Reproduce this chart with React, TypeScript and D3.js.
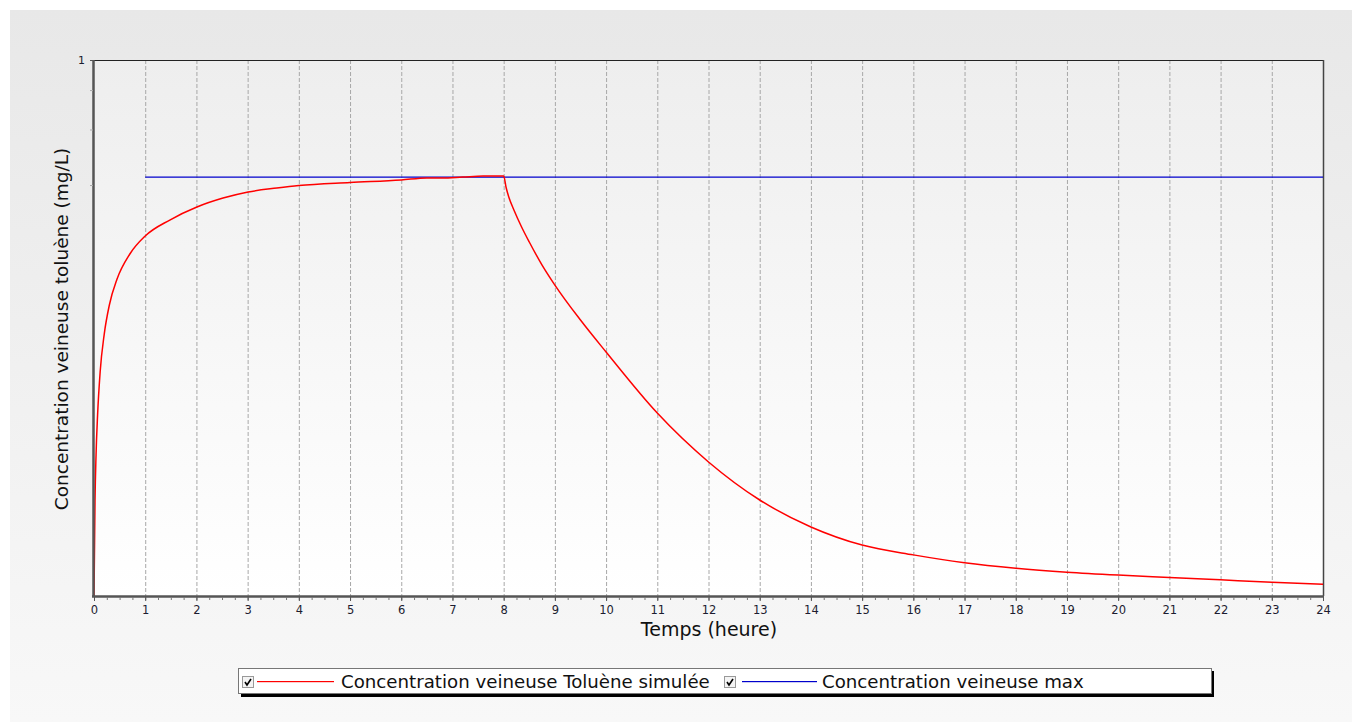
import React from "react";
import * as d3 from "d3";

const simTimes = [0, 0.02, 0.04, 0.07, 0.12, 0.2, 0.3, 0.45, 0.7, 1.0, 1.48, 2.01, 2.52, 3.01, 3.57, 4, 5, 6, 6.5, 6.8, 7.2, 7.6, 8.0, 8.05, 8.1, 8.2, 8.35, 8.5, 8.75, 9.0, 9.5, 10, 11, 12, 13, 14, 15, 16, 17, 18, 19, 20, 21, 22, 23, 24];
const simValues = [0.02, 0.0403, 0.056, 0.0749, 0.1026, 0.1353, 0.1673, 0.2021, 0.2427, 0.2768, 0.311, 0.342, 0.365, 0.3817, 0.3928, 0.4001, 0.409, 0.4166, 0.4227, 0.4227, 0.4256, 0.4287, 0.4287, 0.3928, 0.3679, 0.3346, 0.2956, 0.2649, 0.2239, 0.1935, 0.1499, 0.1187, 0.076, 0.0532, 0.0403, 0.0331, 0.029, 0.027, 0.0255, 0.0245, 0.0238, 0.0233, 0.0229, 0.0225, 0.0221, 0.0218];
const maxTimes = [1, 24];
const maxValues = [0.4256, 0.4256];
const xTicks = d3.range(0, 25);
const xMinorTicks = d3.range(0, 24.01, 0.25);
const yMinorTicks = [0.8, 0.6, 0.4];
const yLabelTicks = [1];
const legendItems = ["Concentration veineuse Toluène simulée", "Concentration veineuse max"];
const legendColors = ["#ff0000", "#0000cc"];

const W = 1352, H = 722;
const L = 94, R = 1323, T = 60, B = 596;
const FONT = "'DejaVu Sans', Verdana, sans-serif";

export default function App() {
  const x = d3.scaleLinear().domain([0, 24]).range([L, R]);
  const y = d3.scaleLog().domain([0.02, 1]).range([B, T]).clamp(true);
  const line = d3.line<number>().x((_, i) => x(simTimes[i])).y((v) => y(v)).curve(d3.curveMonotoneX);
  const mline = d3.line<number>().x((_, i) => x(maxTimes[i])).y((v) => y(v));

  return (
    <svg width={W} height={H} style={{ position: "absolute", left: 0, top: 0 }} fontFamily={FONT}>
      <defs>
        <linearGradient id="bg" x1="0" y1="0" x2="0" y2="1">
          <stop offset="0" stopColor="#e8e8e8" />
          <stop offset="1" stopColor="#f8f8f8" />
        </linearGradient>
        <linearGradient id="plotbg" x1="0" y1="0" x2="0" y2="1">
          <stop offset="0" stopColor="#eeeeee" />
          <stop offset="1" stopColor="#ffffff" />
        </linearGradient>
        <clipPath id="clip">
          <rect x={L} y={T} width={R - L} height={B - T} />
        </clipPath>
      </defs>
      <rect x={0} y={0} width={W} height={H} fill="#ffffff" />
      <rect x={10} y={10} width={W - 10} height={H - 10} fill="url(#bg)" />
      <rect x={L} y={T} width={R - L} height={B - T} fill="url(#plotbg)" />
      {/* grid */}
      {xTicks.filter((t) => t > 0 && t < 24).map((t) => (
        <line key={"g" + t} x1={x(t) + 0.5} x2={x(t) + 0.5} y1={T} y2={B} stroke="#a8a8a8" strokeWidth={1} strokeDasharray="4,2" />
      ))}
      {/* frame */}
      <line x1={L} x2={R} y1={T + 0.5} y2={T + 0.5} stroke="#222" strokeWidth={1} />
      <line x1={R + 0.5} x2={R + 0.5} y1={T} y2={B} stroke="#444" strokeWidth={1.5} />
      {/* series */}
      <g clipPath="url(#clip)">
        <path d={mline(maxValues) || ""} fill="none" stroke={legendColors[1]} strokeWidth={1.3} />
        <path d={line(simValues) || ""} fill="none" stroke={legendColors[0]} strokeWidth={1.5} />
      </g>
      {/* axes */}
      <line x1={L - 0.5} x2={L - 0.5} y1={T} y2={B + 1} stroke="#555" strokeWidth={2.5} />
      <line x1={L - 2} x2={R + 1} y1={B + 0.5} y2={B + 0.5} stroke="#555" strokeWidth={2.5} />
      {xMinorTicks.map((t) => (
        <line key={"m" + t} x1={x(t) + 0.5} x2={x(t) + 0.5} y1={B + 1} y2={B + 4} stroke="#777" strokeWidth={1} />
      ))}
      {xTicks.map((t) => (
        <g key={"t" + t}>
          <line x1={x(t) + 0.5} x2={x(t) + 0.5} y1={B + 1} y2={B + 5} stroke="#555" strokeWidth={1} />
          <text x={x(t) + 0.5} y={B + 18} fontSize={11.5} textAnchor="middle" fill="#1c1c30">{t}</text>
        </g>
      ))}
      {yMinorTicks.map((v) => (
        <line key={"ym" + v} x1={L - 4} x2={L - 1} y1={y(v)} y2={y(v)} stroke="#aaa" strokeWidth={1} />
      ))}
      {yLabelTicks.map((v) => (
        <g key={"yl" + v}>
          <line x1={L - 4} x2={L} y1={y(v) + 0.5} y2={y(v) + 0.5} stroke="#555" strokeWidth={1} />
          <text x={L - 9} y={y(v) + 4} fontSize={11} textAnchor="end" fill="#1c1c30">{v}</text>
        </g>
      ))}
      <text x={709} y={636} fontSize={19} textAnchor="middle" fill="#111">Temps (heure)</text>
      <text transform={`translate(68, 329) rotate(-90)`} fontSize={18.5} textAnchor="middle" fill="#111">Concentration veineuse toluène (mg/L)</text>
      {/* legend */}
      <rect x={241} y={671} width={973} height={26} fill="#000" />
      <rect x={238.5} y={668.5} width={973} height={25} fill="#fff" stroke="#777" strokeWidth={1} />
      {[0, 1].map((i) => {
        const bx = i === 0 ? 242 : 724;
        const lx1 = i === 0 ? 257 : 742;
        const lx2 = i === 0 ? 334 : 817;
        const tx = i === 0 ? 341 : 822;
        return (
          <g key={"lg" + i}>
            <rect x={bx + 0.5} y={676.5} width={11} height={11} fill="#f4f4f4" stroke="#999" strokeWidth={1} />
            <path d={`M${bx + 3},${682} L${bx + 5},${685} L${bx + 9},${679}`} fill="none" stroke="#000" strokeWidth={1.6} />
            <rect x={lx1} y={681} width={lx2 - lx1} height={1.2} fill={legendColors[i]} />
            <text x={tx} y={688} fontSize={18.2} fill="#111">{legendItems[i]}</text>
          </g>
        );
      })}
    </svg>
  );
}
